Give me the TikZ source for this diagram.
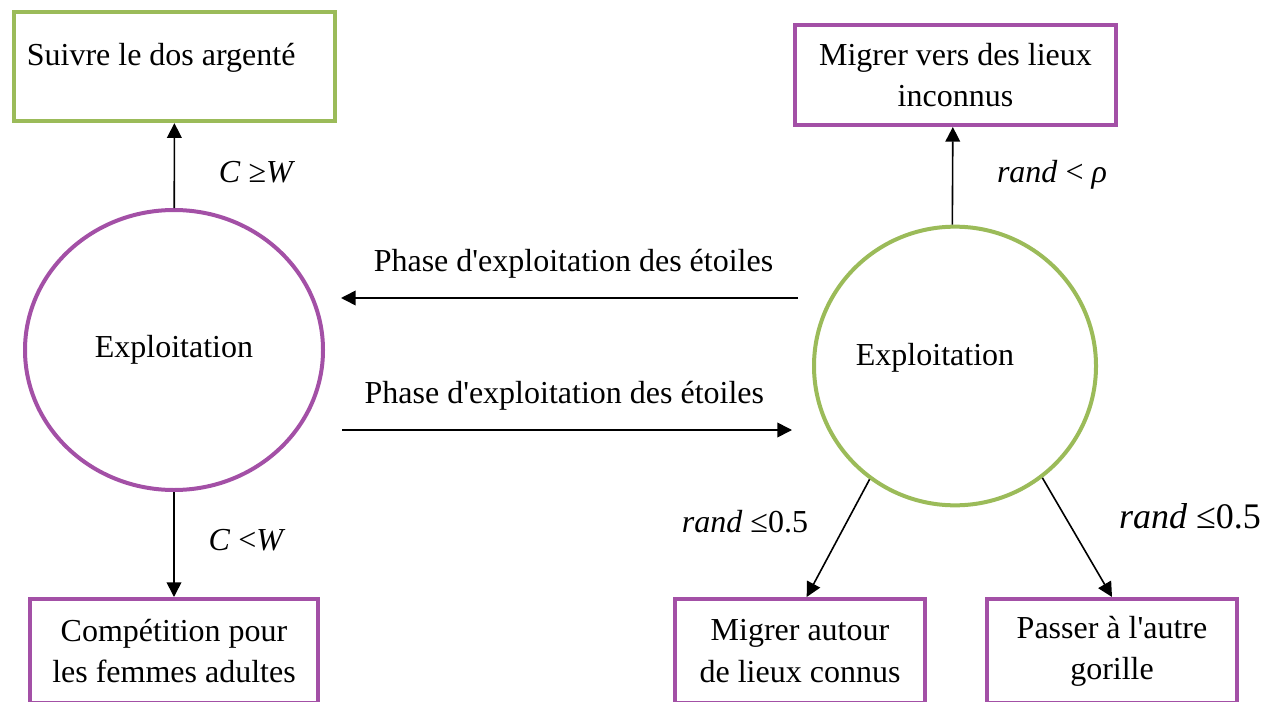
\documentclass[tikz,border=0pt]{standalone}
\usepackage{fontspec}
\setmainfont{Liberation Serif}
% 不轉換直引號
\newfontfamily\plainserif{Liberation Serif}
\usetikzlibrary{shapes.geometric,arrows.meta}
\definecolor{gorpurple}{RGB}{163,80,166}
\definecolor{gorgreen}{RGB}{155,187,89}

\begin{document}
\begin{tikzpicture}[
        % 以像素為單位 (y 向下)
        x=0.75pt, y=-0.75pt,
        % 定義方框樣式
        purplebox/.style={
            rectangle,
            draw=gorpurple,   % 紫色邊框
            line width=3pt,
            align=center,
            inner sep=0pt,
            font=\plainserif\fontsize{24}{31}\selectfont
        },
        greenbox/.style={
            rectangle,
            draw=gorgreen,    % 綠色邊框
            line width=3pt,
            font=\plainserif\fontsize{24}{31}\selectfont
        },
        % 定義圓形節點
        cercle/.style={
            ellipse,
            line width=3pt,
            inner sep=0pt,
            font=\plainserif\fontsize{24}{29}\selectfont
        },
        % 定義箭頭與條件文字
        arr/.style={
            -{Triangle[length=11pt,width=11pt]},
            line width=1.2pt,
            black
        },
        cond/.style={
            inner sep=0pt,
            font=\plainserif\fontsize{24}{29}\selectfont
        }
    ]
        \useasboundingbox (0,0) rectangle (1276,702);

        % --- 1. 兩個圓形 (Exploitation) ---
        \node[cercle, draw=gorpurple, minimum width=223.5pt, minimum height=210pt] (lcirc) at (174,350) {Exploitation};
        \node[cercle, draw=gorgreen, minimum width=211.5pt, minimum height=209pt,
              label={[cond, xshift=-15pt, yshift=6pt]center:Exploitation}] (rcirc) at (955,366) {};

        % --- 2. 方框 ---
        % 左邊
        \node[greenbox, minimum width=241pt, minimum height=82pt, inner sep=0pt,
              text height=16pt, text depth=18pt] (suivre) at (174.5,66.5) {Suivre le dos argenté\hspace*{20pt}};
        \node[purplebox, minimum width=216pt, minimum height=78pt] (compet) at (174,651) {Compétition pour\\les femmes adultes};

        % 右邊
        \node[purplebox, minimum width=241pt, minimum height=75pt] (inconnu) at (955.5,75) {Migrer vers des lieux\\inconnus};
        \node[purplebox, minimum width=187.5pt, minimum height=78pt] (autour) at (800,651) {Migrer autour\\de lieux connus};
        \node[purplebox, minimum width=187.5pt, minimum height=78pt] (passer) at (1112,651) {Passer à l'autre\\gorille};

        % --- 3. 箭頭 ---
        \draw[arr] (lcirc) -- (suivre);
        \draw[arr] (lcirc) -- (compet);
        \draw[arr] ([xshift=-2pt]rcirc.north) -- ([xshift=-2pt]inconnu.south);
        \draw[arr] (rcirc.-127) -- ([xshift=5pt]autour.north);
        \draw[arr] (rcirc.-52) -- (passer.north);

        % 中間兩條水平箭頭
        \coordinate (h1s) at (798,298);
        \coordinate (h1e) at (341,298);
        \coordinate (h2s) at (342,430);
        \coordinate (h2e) at (792,430);
        \draw[arr] (h1s) -- node[cond, above=14.3pt, xshift=3pt] (ph1) {Phase d'exploitation des étoiles} (h1e);
        \draw[arr] (h2s) -- node[cond, above=14.3pt, xshift=-2pt] (ph2) {Phase d'exploitation des étoiles} (h2e);

        % --- 4. 條件文字 ---
        \node[cond] (cge) at (257,172) {\textit{C} ≥\textit{W}};
        \node[cond] (clt) at (247,540) {\textit{C} <\textit{W}};
        \node[cond] (rrho) at (1052,175) {\textit{rand} < \textit{ρ}};
        \node[cond] (rle1) at (745,522) {\textit{rand} ≤0.5};
        \node[cond, font=\plainserif\fontsize{27}{32}\selectfont] (rle2) at (1190,516) {\textit{rand} ≤0.5};

    \end{tikzpicture}
\end{document}
